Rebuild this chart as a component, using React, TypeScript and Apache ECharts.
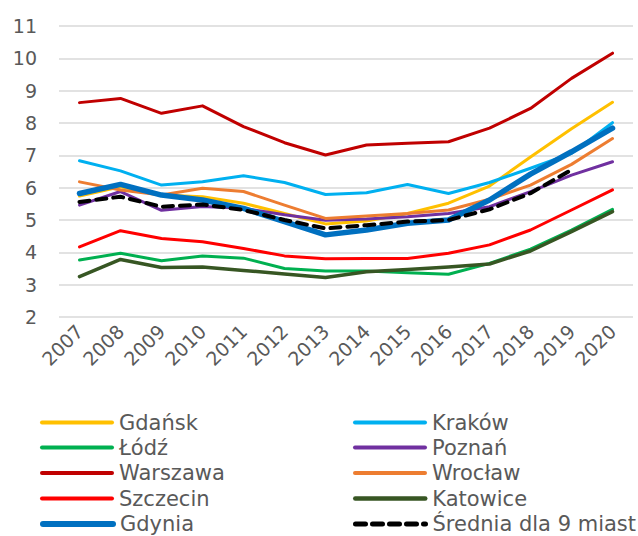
import React, { useEffect, useRef } from "react";
import * as echarts from "echarts";

const years = ["2007","2008","2009","2010","2011","2012","2013","2014","2015","2016","2017","2018","2019","2020"];
const gdansk = [5.74, 6.03, 5.77, 5.72, 5.52, 5.2, 4.88, 4.97, 5.2, 5.52, 6.05, 6.95, 7.82, 8.64];
const krakow = [6.83, 6.52, 6.08, 6.18, 6.37, 6.16, 5.79, 5.84, 6.1, 5.82, 6.16, 6.6, 7.06, 8.01];
const lodz = [3.76, 3.97, 3.74, 3.89, 3.82, 3.5, 3.42, 3.42, 3.37, 3.32, 3.66, 4.1, 4.69, 5.33];
const poznan = [5.46, 5.88, 5.3, 5.42, 5.36, 5.16, 4.99, 5.03, 5.1, 5.2, 5.41, 5.88, 6.39, 6.8];
const warszawa = [8.63, 8.76, 8.3, 8.53, 7.89, 7.39, 7.01, 7.32, 7.37, 7.42, 7.84, 8.45, 9.38, 10.16];
const wroclaw = [6.18, 5.93, 5.77, 5.98, 5.88, 5.46, 5.05, 5.12, 5.2, 5.31, 5.64, 6.08, 6.72, 7.52];
const szczecin = [4.17, 4.67, 4.43, 4.33, 4.12, 3.89, 3.8, 3.81, 3.81, 3.97, 4.23, 4.69, 5.31, 5.93];
const katowice = [3.25, 3.78, 3.53, 3.55, 3.44, 3.33, 3.22, 3.4, 3.47, 3.55, 3.64, 4.04, 4.64, 5.26];
const gdynia = [5.82, 6.1, 5.77, 5.62, 5.36, 4.95, 4.54, 4.69, 4.9, 5.0, 5.62, 6.42, 7.11, 7.84];
const srednia = [5.56, 5.72, 5.41, 5.48, 5.31, 5.0, 4.74, 4.84, 4.95, 5.0, 5.33, 5.83, 6.55, null];

const yMin = 2;
const yMax = 11;
const yInterval = 1;

const FONT = "DejaVu Sans";
const GRAY = "#595959";

type S = { name: string; data: (number | null)[]; color: string; width: number; dash?: number[] };
const seriesDefs: S[] = [
  { name: "Gdańsk", data: gdansk, color: "#FFC000", width: 3 },
  { name: "Kraków", data: krakow, color: "#00B0F0", width: 3 },
  { name: "Łódź", data: lodz, color: "#00B050", width: 3 },
  { name: "Poznań", data: poznan, color: "#7030A0", width: 3 },
  { name: "Warszawa", data: warszawa, color: "#C00000", width: 3 },
  { name: "Wrocław", data: wroclaw, color: "#ED7D31", width: 3 },
  { name: "Szczecin", data: szczecin, color: "#FF0000", width: 3 },
  { name: "Katowice", data: katowice, color: "#375623", width: 3.5 },
  { name: "Gdynia", data: gdynia, color: "#0070C0", width: 5.5 },
  { name: "Średnia dla 9 miast", data: srednia, color: "#000000", width: 4, dash: [10, 7] },
];

const leftNames = ["Gdańsk", "Łódź", "Warszawa", "Szczecin", "Gdynia"];
const rightNames = ["Kraków", "Poznań", "Wrocław", "Katowice", "Średnia dla 9 miast"];

export default function App() {
  const ref = useRef<HTMLDivElement>(null);
  useEffect(() => {
    if (!ref.current) return;
    const chart = echarts.init(ref.current, undefined, { renderer: "svg" });
    const rowCenters = [422, 447, 472.5, 498, 523.5];
    const mkLegend = (name: string, left: number, row: number) => {
      const def = seriesDefs.find((s) => s.name === name)!;
      return {
        orient: "horizontal",
        left,
        top: rowCenters[row] - 10,
        itemWidth: 70,
        itemHeight: 20,
        padding: 0,
        itemStyle: { opacity: 0 },
        lineStyle: { width: Math.min(def.width + 1, 6) },
        textStyle: { fontFamily: FONT, fontSize: 21, color: GRAY, lineHeight: 20, padding: [0, 0, 0, 2] },
        data: [name],
      };
    };
    const legends = [
      ...leftNames.map((n, i) => mkLegend(n, 40, i)),
      ...rightNames.map((n, i) => mkLegend(n, 353, i)),
    ];
    chart.setOption({
      animation: false,
      backgroundColor: "#ffffff",
      grid: { left: 59, right: 5, top: 26, bottom: 219, containLabel: false },
      xAxis: {
        type: "category",
        data: years,
        boundaryGap: true,
        axisLine: { show: false },
        axisTick: { show: false },
        axisLabel: { rotate: 45, fontFamily: FONT, fontSize: 19, color: GRAY, margin: 11, interval: 0 },
      },
      yAxis: {
        type: "value",
        min: yMin,
        max: yMax,
        interval: yInterval,
        axisLine: { show: false },
        axisTick: { show: false },
        axisLabel: { fontFamily: FONT, fontSize: 19, color: GRAY, margin: 22 },
        splitLine: { lineStyle: { color: "#D9D9D9", width: 1.5 } },
      },
      legend: legends,
      series: seriesDefs.map((s) => ({
        name: s.name,
        type: "line",
        data: s.data,
        symbol: "none",
        showSymbol: false,
        connectNulls: false,
        color: s.color,
        lineStyle: { color: s.color, width: s.width, type: s.dash ? s.dash : "solid", cap: "round", join: "round" },
        itemStyle: { color: s.color },
      })),
    });
    return () => chart.dispose();
  }, []);
  return <div ref={ref} style={{ width: 638, height: 536, position: "absolute", left: 0, top: 0 }} />;
}
